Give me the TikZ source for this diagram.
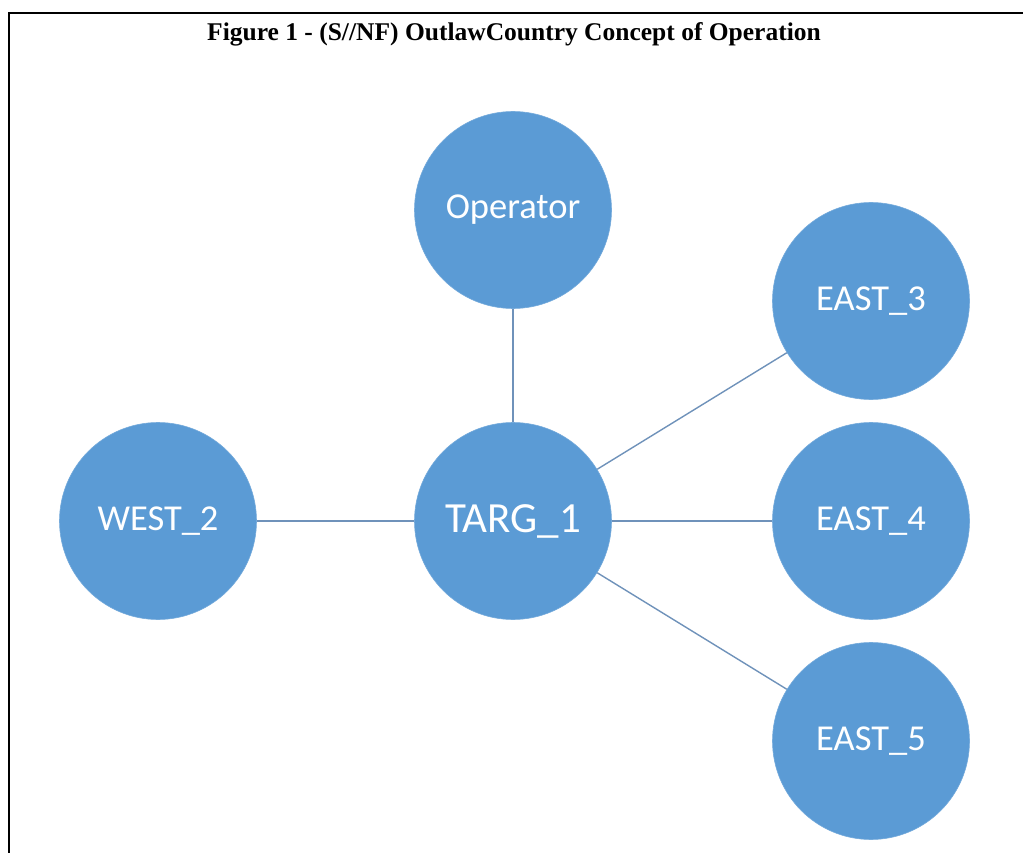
\documentclass[tikz,border=0pt]{standalone}
\usepackage{fontspec}
\setmainfont{Liberation Serif}
\newfontfamily\nodefont{Carlito}
\usepackage{xcolor}
\usetikzlibrary{positioning}
\definecolor{nodeblue}{HTML}{5B9BD5}
\definecolor{linkblue}{HTML}{6F92BA}

\begin{document}
\begin{tikzpicture}[
  x=1pt,y=-1pt,
  host/.style={circle,fill=nodeblue,draw=nodeblue!85!white,line width=0.6pt,minimum size=197pt,inner sep=0pt,text=white,font=\nodefont\fontsize{36.5}{40}\selectfont},
  link/.style={draw=linkblue,line width=1.4pt}]
  \useasboundingbox (0,0) rectangle (1023,853);
  \draw[line width=2pt] (9,853) -- (9,13) -- (1023,13);
  \node[font=\bfseries\fontsize{25.5}{28}\selectfont,anchor=base] (title) at (514,41) {Figure 1 - (S//NF) OutlawCountry Concept of Operation};
  \node[host] (op) at (513,210) {Operator};
  \node[host,font=\nodefont\fontsize{43}{46}\selectfont] (targ) at (513,521) {TARG\_1};
  \node[host] (west) at (158,521) {WEST\_2};
  \node[host] (east3) at (871,301) {EAST\_3};
  \node[host] (east4) at (871,521) {EAST\_4};
  \node[host] (east5) at (871,741) {EAST\_5};
  \draw[link] (op) -- (targ);
  \draw[link] (west) -- (targ);
  \draw[link] (targ) -- (east3);
  \draw[link] (targ) -- (east4);
  \draw[link] (targ) -- (east5);
\end{tikzpicture}
\end{document}
